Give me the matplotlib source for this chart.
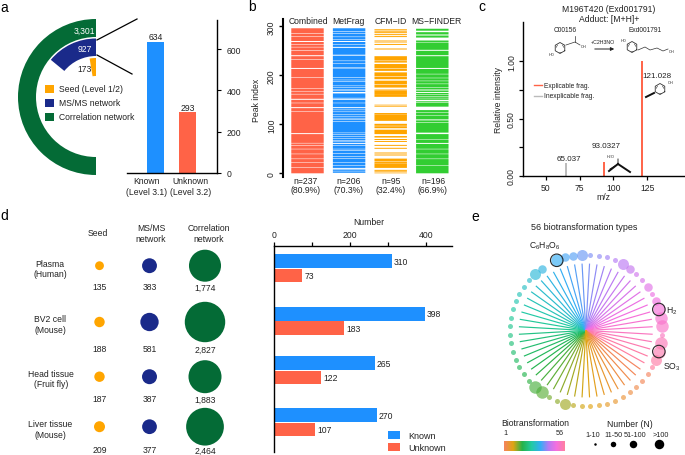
#!/usr/bin/env python3
"""Multi-panel figure: annotation counts, in-silico support, MS/MS example, biotransformations."""
import numpy as np
import matplotlib
matplotlib.use("Agg")
import matplotlib.pyplot as plt
from matplotlib.colors import LinearSegmentedColormap
from matplotlib.patches import Wedge, Rectangle

plt.rcParams["font.family"] = ["Liberation Sans", "DejaVu Sans"]
plt.rcParams["font.size"] = 6.2
plt.rcParams["mathtext.fontset"] = "custom"
plt.rcParams["mathtext.rm"] = "Liberation Sans"
plt.rcParams["mathtext.default"] = "rm"

W, H = 685, 456
BLUE, RED, ORANGE, NAVY, GREEN = "#1E90FF", "#FF6347", "#FFA500", "#1A2A8A", "#046B36"
LIME = "#32CD32"
TXT = "#222222"

# panel a
RING_VALUES = [3301, 927, 173]
RING_LABELS = ["3,301", "927", "173"]
RING_NAMES = ["Seed (Level 1/2)", "MS/MS network", "Correlation network"]
LEVEL_NAMES = ["Known\n(Level 3.1)", "Unknown\n(Level 3.2)"]
LEVEL_VALUES = [634, 293]

# panel b: peak indices without a hit (single rows read from the strips)
N_PEAKS = 296
MISS_COMBINED = [285, 279, 269, 268, 262, 257, 250, 240, 239, 232, 214, 213, 195, 173, 167, 161,
                 151, 150, 143, 134, 133, 126, 81, 80, 61, 56, 49, 39, 29, 22, 11]
MISS_METFRAG = [289, 285, 278, 273, 269, 268, 262, 257, 256, 241, 240, 229, 224, 215, 214, 195,
                190, 187, 178, 175, 170, 168, 165, 164, 163, 153, 151, 150, 143, 134, 133, 129,
                125, 120, 116, 112, 109, 105, 82, 79, 75, 71, 66, 65, 61, 60, 56, 49, 46, 40,
                34, 30, 22, 15, 10, 9, 7, 4, 0]
MISS_MSFINDER = [295, 290, 289, 288, 283, 281, 276, 275, 274, 273, 272, 270, 267, 251, 250, 240,
                 239, 214, 213, 202, 194, 188, 182, 175, 171, 169, 165, 164, 160, 156, 153, 149,
                 148, 147, 144, 135, 134, 133, 132, 131, 130, 129, 124, 118, 109, 108, 103, 82,
                 81, 80, 69, 61, 60, 49, 39, 29, 15]
# CFM-ID is sparse, so its hit rows are kept as bands (first, last)
BANDS_CFM = [(293, 292), (290, 289), (287, 286), (283, 282), (279, 278), (270, 270), (268, 267),
             (263, 262), (254, 254), (252, 252), (238, 230), (228, 226), (222, 214), (212, 209),
             (205, 198), (196, 192), (188, 182), (180, 175), (170, 169), (168, 160), (159, 156),
             (139, 139), (137, 136), (122, 120), (119, 107), (100, 97), (95, 92), (88, 80),
             (75, 73), (69, 68), (65, 64), (57, 56), (51, 50), (42, 42), (40, 40), (38, 38),
             (36, 36), (29, 24), (22, 20), (19, 11), (6, 5), (3, 2), (0, 0)]
METHOD_NAMES = ["Combined", "MetFrag", "CFM\u2212ID", "MS\u2212FINDER"]
METHOD_COUNTS = ["n=237\n(80.9%)", "n=206\n(70.3%)", "n=95\n(32.4%)", "n=196\n(66.9%)"]

# panel c
FRAG_MZ = [65.037, 93.0327, 121.028]
FRAG_INT = [0.11, 0.12, 1.0]
FRAG_LABELS = ["65.037", "93.0327", "121.028"]

# panel d
SAMPLES = ["Plasma\n(Human)", "BV2 cell\n(Mouse)", "Head tissue\n(Fruit fly)", "Liver tissue\n(Mouse)"]
SEED_N = [135, 188, 187, 209]
MSMS_N = [383, 581, 387, 377]
CORR_N = [1774, 2827, 1883, 2464]
KNOWN_N = [310, 398, 265, 270]
UNKNOWN_N = [73, 183, 122, 107]

# panel e: estimated count per biotransformation, clockwise from the bottom
BIOTRANS_N = [5, 5, 60, 5, 5, 150, 120, 5, 5, 5, 5, 5, 5, 5, 5, 5, 5, 5, 5, 5, 5, 70, 30, 0,
              150, 30, 40, 70, 5, 5, 5, 5, 70, 40, 5, 5, 30, 5, 30, 150, 150, 150, 5, 150,
              150, 70, 5, 5, 5, 5, 5, 5, 5, 5, 5, 5]
HIGHLIGHT = {24: "C$_6$H$_8$O$_6$", 39: "H$_2$", 44: "SO$_3$"}
N_BINS = ["1-10", "11-50", "51-100", ">100"]

RAINBOW = LinearSegmentedColormap.from_list("biotrans", [
    (0.00, "#F5845F"), (0.15, "#E0A512"), (0.30, "#25B34A"), (0.45, "#22CBA2"),
    (0.60, "#34AEF5"), (0.73, "#B57BF5"), (0.86, "#F56FE0"), (1.00, "#FF7F9F")])


def axes_px(fig, x0, y0, x1, y1, **kw):
    """Axes placed by its pixel box, y counted from the top of the figure."""
    ax = fig.add_axes([x0 / W, 1 - y1 / H, (x1 - x0) / W, (y1 - y0) / H], **kw)
    ax.patch.set_visible(False)
    return ax


def bold_spines(ax, keep, lw=1.0):
    for name, sp in ax.spines.items():
        sp.set_visible(name in keep)
        sp.set_linewidth(lw)


def runs_from_missing(missing):
    """Turn rows without a hit into (first, length) runs of hit rows."""
    hit = np.ones(N_PEAKS, dtype=bool)
    hit[missing] = False
    edges = np.flatnonzero(np.diff(np.r_[0, hit.astype(int), 0]))
    return [(a, b - a) for a, b in zip(edges[::2], edges[1::2])]


def draw_strip(ax, col, runs, color):
    # snapping off so that a one-row gap (half a pixel) shows as a pale line
    for first, length in runs:
        ax.barh(first, 0.78, left=col - 0.39, height=length, align="edge", color=color, lw=0, snap=False)


def draw_ring(bg, cx, cy, r=5.5):
    a = np.deg2rad(np.arange(30, 391, 60))
    bg.plot(cx + r * np.cos(a), cy + r * np.sin(a), color="#333333", lw=0.6)
    b = np.deg2rad([90, 210, 330])
    for t in b:
        bg.plot([cx + 0.7 * r * np.cos(t - 0.35), cx + 0.7 * r * np.cos(t + 0.35)],
                [cy + 0.7 * r * np.sin(t - 0.35), cy + 0.7 * r * np.sin(t + 0.35)],
                color="#333333", lw=0.4)


def draw_panel_a(fig, bg):
    total = RING_VALUES[0]
    bg.add_patch(Wedge((96, 98), 78, 90, 270, width=18, color=GREEN, lw=0))
    bg.add_patch(Wedge((96, 98), 58.5, 270 - RING_VALUES[1] / total * 180, 270, width=17.5, color=NAVY, lw=0))
    bg.add_patch(Wedge((96, 98), 39, 270 - RING_VALUES[2] / total * 180, 270, width=18, color=ORANGE, lw=0))
    bg.text(84, 31, RING_LABELS[0], color="white", ha="center", va="center")
    bg.text(85, 50, RING_LABELS[1], color="white", ha="center", va="center")
    bg.text(84.5, 70, RING_LABELS[2], color=TXT, ha="center", va="center")
    for name, color, y in zip(RING_NAMES, [ORANGE, NAVY, GREEN], [90, 104, 117.5]):
        bg.add_patch(Rectangle((45.5, y - 4), 8.5, 8, color=color, lw=0))
        bg.text(59, y, name, color=TXT, va="center")
    bg.plot([97, 137], [41, 20], color="black", lw=0.9)
    bg.plot([97, 132], [56, 75], color="black", lw=0.9)

    ax = axes_px(fig, 127, 20.7, 217, 174)
    ax.bar([0, 1], LEVEL_VALUES, width=0.53, color=[BLUE, RED], lw=0)
    for i, v in enumerate(LEVEL_VALUES):
        ax.text(i, v + 3, str(v), ha="center", va="bottom", color=TXT)
    ax.set_xlim(-0.89, 1.92)
    ax.set_ylim(0, 742)
    ax.set_xticks([])
    ax.yaxis.tick_right()
    ax.set_yticks([0, 200, 400, 600])
    ax.tick_params(axis="y", length=3, width=0.8, pad=4, labelcolor=TXT)
    bold_spines(ax, ["right", "bottom"], 1.0)
    for x, name in zip([147, 190.5], LEVEL_NAMES):
        bg.text(x, 187, name, ha="center", va="center", color=TXT, linespacing=1.15)


def draw_panel_b(fig, bg):
    ax = axes_px(fig, 283, 20, 452, 178)
    # 0.49 px per peak row, one column every 41.6 px
    ax.set_ylim((174.3 - 178) / 0.49, (174.3 - 20) / 0.49)
    ax.set_xlim((283 - 307.5) / 41.6, (452 - 307.5) / 41.6)
    draw_strip(ax, 0, runs_from_missing(MISS_COMBINED), RED)
    draw_strip(ax, 1, runs_from_missing(MISS_METFRAG), BLUE)
    draw_strip(ax, 2, [(b, a - b + 1) for a, b in BANDS_CFM], ORANGE)
    draw_strip(ax, 3, runs_from_missing(MISS_MSFINDER), LIME)
    ax.set_yticks([0, 100, 200, 300])
    ax.set_xticks([])
    ax.tick_params(axis="y", labelrotation=90, length=3, width=1.0, pad=2, labelcolor=TXT)
    for lab in ax.get_yticklabels():
        lab.set_va("center")
    bold_spines(ax, ["left"], 1.5)
    bg.text(257, 100, "Peak index", rotation=90, ha="center", va="center", color=TXT)
    for x, name in zip([308, 348, 391, 436], METHOD_NAMES):
        bg.text(x, 21, name, ha="center", va="center", color=TXT)
    for x, lab in zip([306, 349, 391, 433], METHOD_COUNTS):
        bg.text(x, 186, lab, ha="center", va="center", color=TXT, linespacing=1.1)


def draw_panel_c(fig, bg):
    ax = axes_px(fig, 523, 23, 684, 177)
    colors = ["#BBBBBB", RED, RED]
    ax.vlines(FRAG_MZ, 0, FRAG_INT, colors=colors, lw=1.4)
    ax.set_xlim(33.3, 152)
    ax.set_ylim(0, 1.34)
    ax.set_xticks([50, 75, 100, 125])
    ax.set_yticks([0, 0.25, 0.5, 0.75, 1.0], ["0.00", "", "0.50", "", "1.00"])
    ax.tick_params(axis="y", labelrotation=90, length=3, width=0.9, pad=2, labelcolor=TXT)
    ax.tick_params(axis="x", length=3, width=0.9, pad=2, labelcolor=TXT)
    for lab in ax.get_yticklabels():
        lab.set_va("center")
    bold_spines(ax, ["left", "bottom"], 1.0)
    ax.set_xlabel("m/z", color=TXT, labelpad=0)
    bg.text(499, 100, "Relative intensity", rotation=90, ha="center", va="center", color=TXT)
    bg.text(609, 10, "M196T420 (Exd001791)", ha="center", va="center", color=TXT)
    bg.text(609, 20, "Adduct: [M+H]+", ha="center", va="center", color=TXT)
    bg.text(569, 160, FRAG_LABELS[0], ha="center", va="center", fontsize=5.8, color=TXT)
    bg.text(606, 147, FRAG_LABELS[1], ha="center", va="center", fontsize=5.8, color=TXT)
    bg.text(657, 76, FRAG_LABELS[2], ha="center", va="center", fontsize=5.8, color=TXT)
    for y, color, name in [(86, RED, "Explicable frag."), (97, "#BBBBBB", "Inexplicable frag.")]:
        bg.plot([534, 542], [y, y], color=color, lw=1)
        bg.text(544, y, name, va="center", fontsize=4.8, color=TXT)

    # small structure sketches
    bg.text(565, 31, "C00156", ha="center", va="center", fontsize=4.8, color=TXT)
    bg.text(645, 31, "Exd001791", ha="center", va="center", fontsize=4.8, color=TXT)
    bg.text(603, 42, "+C2H3NO", ha="center", va="center", fontsize=3.8, color=TXT)
    bg.annotate("", xy=(617, 50), xytext=(592, 50),
                arrowprops=dict(arrowstyle="-|>", lw=0.7, color="#222222", mutation_scale=5))
    draw_ring(bg, 560, 49)
    bg.plot([566, 575, 580], [46, 43, 46], color="#333333", lw=0.5)
    bg.plot([575, 575], [43, 37], color="#333333", lw=0.5)
    bg.text(554, 55, "HO", fontsize=2.8, ha="right", va="center", color=TXT)
    bg.text(581, 47, "OH", fontsize=2.8, va="center", color=TXT)
    draw_ring(bg, 632, 48)
    bg.plot([638, 645, 650, 657, 663, 668], [51, 48, 51, 49, 52, 50], color="#333333", lw=0.5)
    bg.text(626, 41, "HO", fontsize=2.8, ha="right", va="center", color=TXT)
    bg.text(669, 52, "OH", fontsize=2.8, va="center", color=TXT)
    draw_ring(bg, 660, 90)
    bg.plot([654, 646], [94, 98], color="#111111", lw=1.4)
    bg.text(668, 83, "OH", fontsize=2.8, va="center", color=TXT)
    bg.plot([610, 618, 618], [170, 165, 160], color="#111111", lw=0.6)
    bg.plot([618, 630], [165, 173], color="#111111", lw=1.4)
    bg.plot([618, 609], [165, 172], color="#111111", lw=1.4)
    bg.text(611, 157, "H$_2$O", fontsize=2.8, ha="center", va="center", color=TXT)


def draw_panel_d(fig, bg):
    row_y = [266.7, 323, 377.7, 427.7]
    label_y = [288, 350, 400, 451]
    col_x = [99.5, 149.5, 205]
    for x, vals, color in zip(col_x, [SEED_N, MSMS_N, CORR_N], [ORANGE, NAVY, GREEN]):
        bg.scatter([x] * 4, row_y, s=np.array(vals) * 0.3, color=color, lw=0)
        for y, v in zip(label_y, vals):
            bg.text(x, y, f"{v:,}", ha="center", va="center", color=TXT)
    for y, name, x in zip([269.5, 325, 379.5, 430], SAMPLES, [50, 50, 51, 50]):
        bg.text(x, y, name, ha="center", va="center", color=TXT, linespacing=1.15)
    bg.text(98, 234, "Seed", ha="center", va="center", color=TXT)
    bg.text(151, 234, "MS/MS\nnetwork", ha="center", va="center", color=TXT, linespacing=1.15)
    bg.text(209, 234, "Correlation\nnetwork", ha="center", va="center", color=TXT, linespacing=1.15)

    ax = axes_px(fig, 274.3, 246.7, 452.3, 453)
    group_y = [269.5, 322, 371.5, 423.5]
    ax.set_ylim(453, 246.7)
    ax.set_xlim(0, 470)
    for y, k, u in zip(group_y, KNOWN_N, UNKNOWN_N):
        ax.barh(y - 7.2, k, height=13.6, color=BLUE, lw=0)
        ax.barh(y + 7.2, u, height=13.6, color=RED, lw=0)
        ax.text(k + 4, y - 7.2, str(k), va="center", color=TXT)
        ax.text(u + 8, y + 7.2, str(u), va="center", color=TXT)
    ax.xaxis.tick_top()
    ax.set_xticks([0, 100, 200, 300, 400], ["0", "", "200", "", "400"])
    ax.set_yticks([])
    ax.tick_params(axis="x", length=3, width=0.9, pad=1.5, labelcolor=TXT)
    bold_spines(ax, ["left", "top"], 1.0)
    bg.text(369, 222.5, "Number", ha="center", va="center", color=TXT)
    for y, color, name in [(436.5, BLUE, "Known"), (448.5, RED, "Unknown")]:
        bg.add_patch(Rectangle((388, y - 4), 12.5, 8, color=color, lw=0))
        bg.text(408, y, name, va="center", fontsize=6.5, color=TXT)


def draw_panel_e(fig, bg):
    cx, cy, radius = 585.8, 331.5, 76
    n_types = len(BIOTRANS_N)
    ax = axes_px(fig, cx - 100, cy - 100, cx + 100, cy + 100)
    ax.set_xlim(-100, 100)
    ax.set_ylim(-100, 100)
    ax.axis("off")
    step = 2 * np.pi / n_types
    # clockwise from just left of the bottom
    theta = -np.pi / 2 - step / 2 - np.arange(n_types) * step
    t_color = ((np.arange(n_types) + 9) % n_types) / (n_types - 1)
    colors = RAINBOW(t_color)
    diam_px = np.array([5, 8.5, 11, 12.5])[np.digitize(BIOTRANS_N, [11, 51, 101])]
    for i in range(n_types):
        ax.plot([0, 67 * np.cos(theta[i])], [0, 67 * np.sin(theta[i])], color=colors[i], lw=0.85,
                solid_capstyle="butt")
        if BIOTRANS_N[i] == 0:
            continue
        ax.scatter(radius * np.cos(theta[i]), radius * np.sin(theta[i]), s=(diam_px[i] * 0.72) ** 2,
                   color=colors[i], alpha=0.65, lw=0, zorder=3)
        if i in HIGHLIGHT:
            ax.scatter(radius * np.cos(theta[i]), radius * np.sin(theta[i]), s=(diam_px[i] * 0.72) ** 2,
                       facecolor="none", edgecolor="#2A2A2A", lw=0.8, zorder=4)
    bg.text(584, 227.7, "56 biotransformation types", ha="center", va="center", fontsize=6.5, color=TXT)
    bg.text(545, 246, HIGHLIGHT[24], ha="center", va="center", color=TXT)
    bg.text(672, 311, HIGHLIGHT[39], ha="center", va="center", color=TXT)
    bg.text(672, 367, HIGHLIGHT[44], ha="center", va="center", color=TXT)

    bg.text(535, 424, "Biotransformation", ha="center", va="center", color=TXT)
    bg.text(505.5, 434, "1", ha="center", va="center", fontsize=5.2, color=TXT)
    bg.text(559.5, 434, "56", ha="center", va="center", fontsize=5.2, color=TXT)
    grad = axes_px(fig, 503.7, 441.7, 564.3, 452)
    grad.imshow(np.linspace(0, 1, 256)[None, :], aspect="auto", cmap=RAINBOW)
    grad.axis("off")

    bg.text(629.5, 425, "Number (N)", ha="center", va="center", color=TXT)
    for x, tx, name, d in zip([595, 613, 633, 659], [593, 613, 635, 661], N_BINS, [2.5, 5.5, 7.5, 9.5]):
        bg.text(tx, 435.5, name, ha="center", va="center", fontsize=5.2, color=TXT)
        bg.scatter([x], [445], s=(d * 0.72) ** 2, color="black", lw=0)


def main():
    fig = plt.figure(figsize=(W / 100, H / 100), dpi=100)
    bg = axes_px(fig, 0, 0, W, H)
    bg.set_xlim(0, W)
    bg.set_ylim(H, 0)
    bg.axis("off")

    draw_panel_a(fig, bg)
    draw_panel_b(fig, bg)
    draw_panel_c(fig, bg)
    draw_panel_d(fig, bg)
    draw_panel_e(fig, bg)

    for letter, x, y in [("a", 4, 8), ("b", 252, 7), ("c", 482, 7), ("d", 4, 216), ("e", 475, 217)]:
        bg.text(x, y, letter, fontsize=10, ha="center", va="center", color="black")

    fig.savefig("out.png", dpi=100)
    plt.close(fig)


if __name__ == "__main__":
    main()
